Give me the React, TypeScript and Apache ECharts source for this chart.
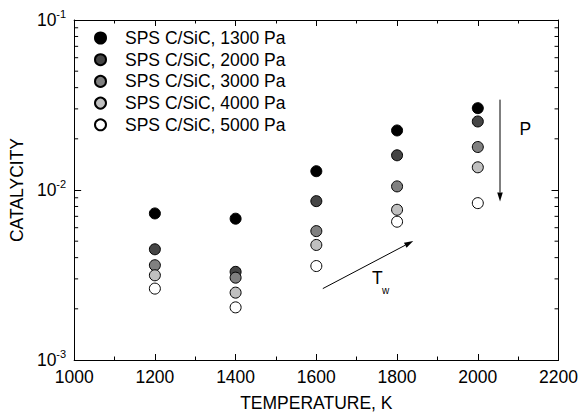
import React, { useEffect, useRef } from "react";
import * as echarts from "echarts";

const temperatures = [1200, 1400, 1600, 1800, 2000];
const seriesNames = [
  "SPS C/SiC, 1300 Pa",
  "SPS C/SiC, 2000 Pa",
  "SPS C/SiC, 3000 Pa",
  "SPS C/SiC, 4000 Pa",
  "SPS C/SiC, 5000 Pa",
];
const p1300 = [7.28e-3, 6.78e-3, 1.29e-2, 2.24e-2, 3.03e-2];
const p2000 = [4.48e-3, 3.3e-3, 8.6e-3, 1.6e-2, 2.53e-2];
const p3000 = [3.61e-3, 3.05e-3, 5.73e-3, 1.05e-2, 1.79e-2];
const p4000 = [3.15e-3, 2.49e-3, 4.75e-3, 7.65e-3, 1.36e-2];
const p5000 = [2.63e-3, 2.04e-3, 3.57e-3, 6.51e-3, 8.37e-3];
const seriesValues = [p1300, p2000, p3000, p4000, p5000];
const seriesColors = ["#000000", "#454545", "#808080", "#c0c0c0", "#ffffff"];

const X_MIN = 1000;
const X_MAX = 2200;
const X_STEP = 200;
const Y_MIN = 1e-3;
const Y_MAX = 1e-1;
const yMinorTicks = [
  2e-3, 3e-3, 4e-3, 5e-3, 6e-3, 7e-3, 8e-3, 9e-3,
  2e-2, 3e-2, 4e-2, 5e-2, 6e-2, 7e-2, 8e-2, 9e-2,
];
// arrows: [x1, y1, x2, y2]
const arrows = [
  [1616, 2.63e-3, 1840, 5.01e-3],
  [2055, 3.4e-2, 2055, 8.56e-3],
];

const FONT = "'Liberation Sans', Arial, sans-serif";
const FS = 17.5;

export default function App() {
  const ref = useRef<HTMLDivElement>(null);
  useEffect(() => {
    if (!ref.current) return;
    const chart = echarts.init(ref.current, undefined, { renderer: "svg" });
    const grid = { left: 71, right: 22, top: 20, bottom: 56 };
    const axisLineStyle = { color: "#000", width: 1 };
    const option: any = {
      animation: false,
      backgroundColor: "#fff",
      grid,
      textStyle: { fontFamily: FONT },
      legend: {
        orient: "vertical",
        left: 94,
        top: 29,
        padding: 0,
        itemWidth: 11,
        itemHeight: 11,
        itemGap: 3.7,
        selectedMode: false,
        data: seriesNames,
        textStyle: {
          fontFamily: FONT,
          fontSize: FS,
          color: "#000",
          lineHeight: 18,
          padding: [0, 0, 0, 14],
        },
      },
      xAxis: [
        {
          type: "value",
          min: X_MIN,
          max: X_MAX,
          interval: X_STEP,
          position: "bottom",
          name: "TEMPERATURE, K",
          nameLocation: "middle",
          nameGap: 34,
          nameTextStyle: { fontFamily: FONT, fontSize: FS, color: "#000" },
          axisLine: { show: true, onZero: false, lineStyle: axisLineStyle },
          axisTick: { show: true, inside: true, length: 6, lineStyle: axisLineStyle },
          minorTick: { show: true, splitNumber: 2, length: 3.5, lineStyle: axisLineStyle },
          axisLabel: {
            fontFamily: FONT,
            fontSize: FS,
            color: "#000",
            margin: 8,
            formatter: (v: number) => String(v),
          },
          splitLine: { show: false },
        },
        {
          type: "value",
          min: X_MIN,
          max: X_MAX,
          interval: X_STEP,
          position: "top",
          axisLine: { show: true, onZero: false, lineStyle: axisLineStyle },
          axisTick: { show: true, inside: true, length: 6, lineStyle: axisLineStyle },
          minorTick: { show: true, splitNumber: 2, length: 3.5, lineStyle: axisLineStyle },
          axisLabel: { show: false },
          splitLine: { show: false },
        },
      ],
      yAxis: [
        {
          type: "log",
          logBase: 10,
          min: Y_MIN,
          max: Y_MAX,
          position: "left",
          name: "CATALYCITY",
          nameLocation: "middle",
          nameGap: 45,
          nameTextStyle: { fontFamily: FONT, fontSize: FS, color: "#000" },
          axisLine: { show: true, onZero: false, lineStyle: axisLineStyle },
          axisTick: { show: true, inside: true, length: 7, lineStyle: axisLineStyle },
          axisLabel: {
            margin: 8,
            color: "#000",
            formatter: (v: number) => {
              const e = Math.round(Math.log10(v));
              return "{b|10}{s|" + e + "}";
            },
            rich: {
              b: { fontFamily: FONT, fontSize: FS, color: "#000" },
              s: { fontFamily: FONT, fontSize: 11, color: "#000", padding: [0, 0, 12, 0] },
            },
          },
          splitLine: { show: false },
        },
        {
          type: "log",
          logBase: 10,
          min: Y_MIN,
          max: Y_MAX,
          position: "right",
          axisLine: { show: true, onZero: false, lineStyle: axisLineStyle },
          axisTick: { show: true, inside: true, length: 7, lineStyle: axisLineStyle },
          axisLabel: { show: false },
          splitLine: { show: false },
        },
      ],
      series: [
        ...seriesNames.map((name, i) => ({
          name,
          type: "scatter",
          symbol: "circle",
          symbolSize: 11,
          itemStyle: { color: seriesColors[i], borderColor: "#000", borderWidth: 1, opacity: 1 },
          data: temperatures.map((t, j) => [t, seriesValues[i][j]]),
          z: 3,
        })),
        {
          type: "custom",
          name: "minorTicks",
          silent: true,
          clip: false,
          data: yMinorTicks.map((v) => [X_MIN, v]),
          renderItem: (params: any, api: any) => {
            const v = api.value(1);
            const l = api.coord([X_MIN, v]);
            const r = api.coord([X_MAX, v]);
            return {
              type: "group",
              children: [
                { type: "line", shape: { x1: l[0], y1: l[1], x2: l[0] + 4, y2: l[1] }, style: { stroke: "#000", lineWidth: 1 } },
                { type: "line", shape: { x1: r[0], y1: r[1], x2: r[0] - 4, y2: r[1] }, style: { stroke: "#000", lineWidth: 1 } },
              ],
            };
          },
          z: 2,
        },
        {
          type: "custom",
          name: "arrows",
          silent: true,
          clip: false,
          data: arrows,
          encode: { x: [0, 2], y: [1, 3] },
          renderItem: (params: any, api: any) => {
            const p1 = api.coord([api.value(0), api.value(1)]);
            const p2 = api.coord([api.value(2), api.value(3)]);
            const dx = p2[0] - p1[0];
            const dy = p2[1] - p1[1];
            const len = Math.sqrt(dx * dx + dy * dy);
            const ux = dx / len;
            const uy = dy / len;
            const hl = 9;
            const hw = 2.8;
            const bx = p2[0] - ux * hl;
            const by = p2[1] - uy * hl;
            return {
              type: "group",
              children: [
                { type: "line", shape: { x1: p1[0], y1: p1[1], x2: bx, y2: by }, style: { stroke: "#000", lineWidth: 1 } },
                {
                  type: "polygon",
                  shape: {
                    points: [
                      [p2[0], p2[1]],
                      [bx - uy * hw, by + ux * hw],
                      [bx + uy * hw, by - ux * hw],
                    ],
                  },
                  style: { fill: "#000" },
                },
              ],
            };
          },
          z: 2,
        },
      ],
      graphic: [
        { type: "text", left: 372, top: 269, style: { text: "T", font: `${FS}px ${FONT}`, fill: "#000" } },
        { type: "text", left: 382, top: 285, style: { text: "w", font: `10px ${FONT}`, fill: "#000" } },
        { type: "text", left: 519.5, top: 120, style: { text: "P", font: `${FS}px ${FONT}`, fill: "#000" } },
      ],
    };
    chart.setOption(option);
    return () => chart.dispose();
  }, []);
  return (
    <div
      ref={ref}
      style={{ position: "fixed", left: 0, top: 0, width: 581, height: 417, background: "#fff" }}
    />
  );
}
